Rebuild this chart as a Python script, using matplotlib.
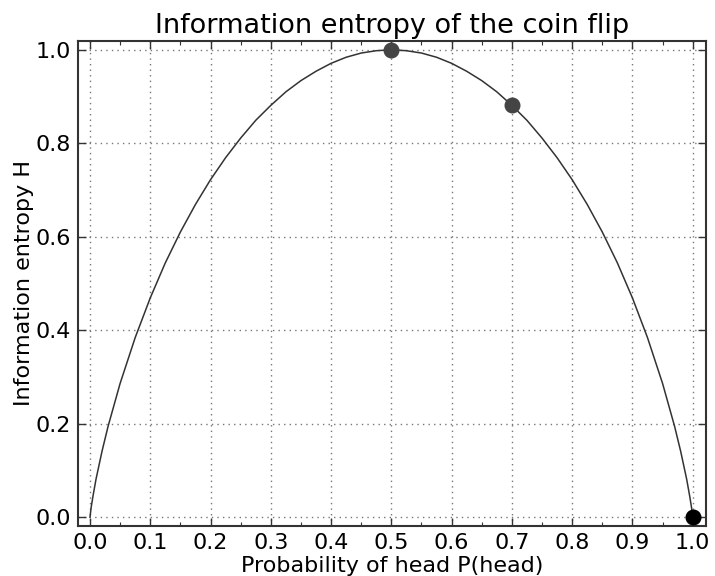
import matplotlib
matplotlib.use('Agg')
import matplotlib.pyplot as plt
from matplotlib.ticker import MultipleLocator

# entropy curve
p_head = [0.0, 0.002, 0.005, 0.01, 0.02, 0.03, 0.05, 0.075, 0.1, 0.125, 0.15, 0.175,
          0.2, 0.225, 0.25, 0.275, 0.3, 0.325, 0.35, 0.375, 0.4, 0.425, 0.45, 0.475,
          0.5, 0.525, 0.55, 0.575, 0.6, 0.625, 0.65, 0.675, 0.7, 0.725, 0.75, 0.775,
          0.8, 0.825, 0.85, 0.875, 0.9, 0.925, 0.95, 0.97, 0.98, 0.99, 0.995, 0.998, 1.0]
entropy = [0.0, 0.021, 0.045, 0.081, 0.141, 0.194, 0.286, 0.384, 0.469, 0.544, 0.610, 0.669,
           0.722, 0.769, 0.811, 0.849, 0.881, 0.910, 0.934, 0.954, 0.971, 0.984, 0.993, 0.998,
           1.0, 0.998, 0.993, 0.984, 0.971, 0.954, 0.934, 0.910, 0.881, 0.849, 0.811, 0.769,
           0.722, 0.669, 0.610, 0.544, 0.469, 0.384, 0.286, 0.194, 0.141, 0.081, 0.045, 0.021, 0.0]

# highlighted points
mark_p = [0.5, 0.7, 1.0]
mark_h = [1.0, 0.881, 0.0]
mark_colors = ['#444444', '#444444', '#000000']

fig = plt.figure(figsize=(7.15, 5.76), dpi=100)
ax = fig.add_axes([0.109, 0.087, 0.878, 0.842])

ax.plot(p_head, entropy, color='#333333', linewidth=1.1)
for x, y, c in zip(mark_p, mark_h, mark_colors):
    ax.plot(x, y, 'o', color=c, markersize=10.5, zorder=3)

ax.set_xlim(-0.02, 1.0216)
ax.set_ylim(-0.019, 1.019)
ax.xaxis.set_major_locator(MultipleLocator(0.1))
ax.xaxis.set_minor_locator(MultipleLocator(0.05))
ax.yaxis.set_major_locator(MultipleLocator(0.2))

ax.tick_params(which='both', direction='in', top=True, right=True, colors='#333333',
               labelcolor='black')
ax.tick_params(which='major', length=6, width=1, labelsize=16, pad=5)
ax.tick_params(which='minor', length=3, width=0.8)
ax.grid(True, linestyle=(0, (1, 3)), color='#777777', linewidth=1.0)
for s in ax.spines.values():
    s.set_color('#333333')
    s.set_linewidth(1.5)

ax.set_title('Information entropy of the coin flip', fontsize=19.5, pad=6)
ax.set_xlabel('Probability of head P(head)', fontsize=16, labelpad=2)
ax.set_ylabel('Information entropy H', fontsize=16, labelpad=1)

fig.savefig('out.png', dpi=100)
